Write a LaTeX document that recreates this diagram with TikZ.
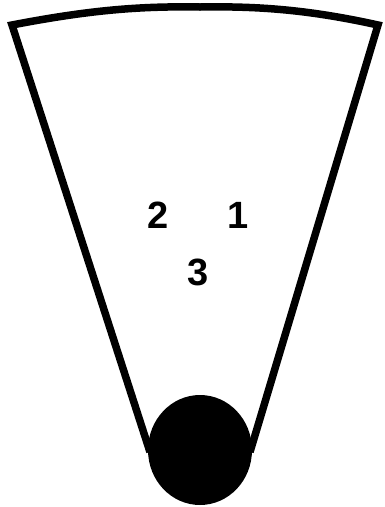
\documentclass[tikz,border=0pt]{standalone}
\usepackage{fontspec}
\setmainfont{Liberation Sans}
\begin{document}
\begin{tikzpicture}[x=1pt,y=-1pt,
  lbl/.style={font=\fontsize{38}{38}\selectfont\bfseries, inner sep=0pt, anchor=center},
  edge/.style={line width=7.5pt, line join=miter}]
\useasboundingbox (0,0) rectangle (385,507);
\coordinate (bl) at (150,452);
\coordinate (tl) at (12,25);
\coordinate (tr) at (378,25);
\coordinate (br) at (250,452);
\draw[edge] (bl) -- (tl) .. controls (90,10) and (140,6) .. (200,7) .. controls (260,6) and (310,10) .. (tr) -- (br);
\fill (200,450) ellipse [x radius=52, y radius=55];
\node[lbl] (n2) at (158,215) {2};
\node[lbl] (n1) at (238,215) {1};
\node[lbl] (n3) at (198,272) {3};
\end{tikzpicture}
\end{document}
